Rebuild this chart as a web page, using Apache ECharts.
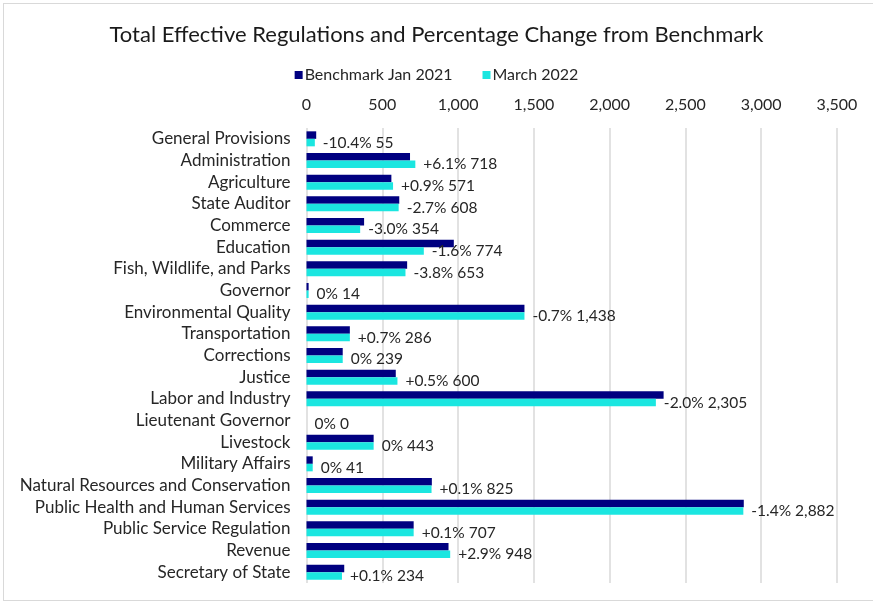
<!DOCTYPE html>
<html>
<head>
<meta charset="utf-8">
<script src="https://cdn.jsdelivr.net/npm/echarts@6/dist/echarts.min.js"></script>
<style>
  body { margin: 0; background: #fff; }
  #frame { position: absolute; left: 3px; top: 3px; width: 880px; height: 598px; border: 1px solid #d9d9d9; box-sizing: border-box; }
  #chart { position: absolute; left: 0; top: 0; width: 873px; height: 603px; }
</style>
</head>
<body>
<div id="frame"></div>
<div id="chart"></div>
<script>
const categories = [
  'General Provisions', 'Administration', 'Agriculture', 'State Auditor', 'Commerce',
  'Education', 'Fish, Wildlife, and Parks', 'Governor', 'Environmental Quality',
  'Transportation', 'Corrections', 'Justice', 'Labor and Industry', 'Lieutenant Governor',
  'Livestock', 'Military Affairs', 'Natural Resources and Conservation',
  'Public Health and Human Services', 'Public Service Regulation', 'Revenue', 'Secretary of State'
]
const benchmark = [64, 683, 560, 612, 380, 972, 664, 14, 1438, 286, 239, 589, 2356, 0, 443, 41, 827, 2885, 707, 937, 249]
const march2022 = [55, 718, 571, 608, 354, 774, 653, 14, 1438, 286, 239, 600, 2305, 0, 443, 41, 825, 2882, 707, 948, 234]
const pctChange = ['-10.4%', '+6.1%', '+0.9%', '-2.7%', '-3.0%', '-1.6%', '-3.8%', '0%', '-0.7%',
  '+0.7%', '0%', '+0.5%', '-2.0%', '0%', '0%', '0%', '+0.1%', '-1.4%', '+0.1%', '+2.9%', '+0.1%']
const tickValues = [0, 500, 1000, 1500, 2000, 2500, 3000, 3500]

const fmt = v => v.toLocaleString('en-US')
const font = 'Lato'
const textColor = '#262626'

const myChart = echarts.init(document.getElementById('chart'))
myChart.setOption({
  textStyle: { fontFamily: font },
  title: {
    text: 'Total Effective Regulations and Percentage Change from Benchmark',
    left: 'center',
    top: 19,
    textStyle: { fontFamily: font, fontSize: 22, fontWeight: 'normal', color: '#1a1a1a' },
  },
  legend: {
    top: 62,
    left: 'center',
    itemWidth: 8,
    itemHeight: 8,
    itemGap: 30,
    icon: 'rect',
    textStyle: { fontFamily: font, fontSize: 16, color: textColor, padding: [0, 0, 0, -3] },
    data: ['Benchmark Jan 2021', 'March 2022'],
  },
  grid: { left: 306.5, right: 36, top: 128, bottom: 20 },
  xAxis: {
    type: 'value',
    position: 'top',
    min: tickValues[0],
    max: tickValues[tickValues.length - 1],
    interval: 500,
    axisLine: { show: false },
    axisTick: { show: false },
    axisLabel: { fontFamily: font, fontSize: 16, color: textColor, margin: 15, formatter: v => fmt(v) },
    splitLine: { lineStyle: { color: '#d9d9d9', width: 1.5 } },
  },
  yAxis: {
    type: 'category',
    inverse: true,
    data: categories,
    axisLine: { show: false },
    axisTick: { show: false },
    axisLabel: { interval: 0, fontFamily: font, fontSize: 17, color: textColor, margin: 16 },
  },
  series: [
    {
      name: 'Benchmark Jan 2021',
      type: 'bar',
      data: benchmark,
      barWidth: 7.5,
      barGap: '0%',
      itemStyle: { color: '#000080' },
    },
    {
      name: 'March 2022',
      type: 'bar',
      data: march2022,
      barWidth: 7.5,
      itemStyle: { color: '#1be6e0' },
      label: {
        show: true,
        position: 'right',
        distance: 8,
        fontFamily: font,
        fontSize: 15.5,
        color: textColor,
        formatter: p => pctChange[p.dataIndex] + ' ' + fmt(p.value),
      },
    },
  ],
})
</script>
</body>
</html>
